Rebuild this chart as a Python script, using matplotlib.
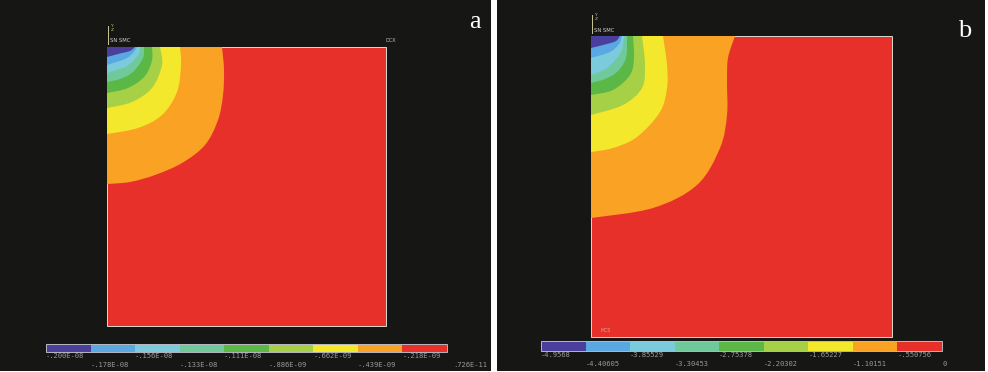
import matplotlib
matplotlib.use("Agg")
import matplotlib.pyplot as plt
from matplotlib.patches import PathPatch, Rectangle
from matplotlib.path import Path

# band colours, lowest value first
band_colors = ["#4b3f9e", "#5aa8e2", "#7ccbdc", "#70c99a", "#5bb847",
               "#a6d045", "#f4e82c", "#faa224", "#e8302a"]

# -------------------------------
# Panel a, contour lines (x, y in picture pixels)
a_lines = [
    [(135, 47), (130, 51), (122, 53), (107, 57)],
    [(137, 47), (133, 53), (125, 59), (107, 65)],
    [(140, 47), (138, 55), (127, 66), (107, 73)],
    [(144, 47), (143, 58), (133, 72), (120, 79), (107, 82)],
    [(152, 47), (152, 60), (145, 76), (128, 88), (107, 93)],
    [(160, 47), (162, 65), (152, 88), (132, 102), (107, 108)],
    [(180, 47), (181, 65), (177, 92), (162, 115), (138, 128), (107, 134)],
    [(222, 47), (224, 70), (223, 95), (218, 120), (205, 145), (182, 163),
     (155, 175), (130, 182), (107, 184)],
]
a_labels_top = ["-.200E-08", "-.156E-08", "-.111E-08", "-.662E-09", "-.218E-09"]
a_labels_low = ["-.178E-08", "-.133E-08", "-.886E-09", "-.439E-09", ".726E-11"]

# Panel b
b_lines = [
    [(620, 36), (616, 41), (607, 44), (591, 48)],
    [(622, 36), (619, 44), (610, 52), (591, 58)],
    [(624, 36), (621, 52), (607, 68), (591, 75)],
    [(627, 36), (626, 58), (617, 72), (605, 79), (591, 83)],
    [(633, 36), (634, 58), (630, 75), (613, 90), (591, 95)],
    [(642, 36), (645, 65), (642, 88), (623, 105), (591, 115)],
    [(663, 36), (667, 65), (667, 88), (660, 112), (637, 137), (613, 148),
     (591, 152)],
    [(735, 36), (728, 58), (727, 82), (727, 115), (720, 148), (697, 185),
     (653, 208), (591, 218)],
]
b_labels_top = ["-4.9568", "-3.85529", "-2.75378", "-1.65227", "-.550756"]
b_labels_low = ["-4.40605", "-3.30453", "-2.20302", "-1.10151", "0"]

fig = plt.figure(figsize=(9.88, 3.72), dpi=100, facecolor="white")
ax = fig.add_axes([0, 0, 1, 1])
ax.set_xlim(0, 988)
ax.set_ylim(372, 0)
ax.axis("off")


def smooth_band(pts, corner):
    # catmull-rom through the read points, closed through the box corner
    verts = [pts[0]]
    codes = [Path.MOVETO]
    for i in range(len(pts) - 1):
        p0 = pts[max(i - 1, 0)]
        p1 = pts[i]
        p2 = pts[i + 1]
        p3 = pts[min(i + 2, len(pts) - 1)]
        c1 = (p1[0] + (p2[0] - p0[0]) / 6, p1[1] + (p2[1] - p0[1]) / 6)
        c2 = (p2[0] - (p3[0] - p1[0]) / 6, p2[1] - (p3[1] - p1[1]) / 6)
        verts += [c1, c2, p2]
        codes += [Path.CURVE4] * 3
    verts += [corner, pts[0]]
    codes += [Path.LINETO, Path.CLOSEPOLY]
    return Path(verts, codes)


def draw_panel(bg, box, lines, bar, labels_top, labels_low, letter, letter_xy, last_dx):
    ax.add_patch(Rectangle((bg[0], bg[1]), bg[2], bg[3], fc="#161615", ec="none"))
    left, top, right, bottom = box
    ax.add_patch(Rectangle((left, top), right - left, bottom - top,
                           fc=band_colors[-1], ec="#d8d8d0", lw=0.7))
    # largest band first so the inner ones sit on top
    for i in range(len(lines) - 1, -1, -1):
        ax.add_patch(PathPatch(smooth_band(lines[i], (left, top)),
                               fc=band_colors[i], ec="none"))

    # legend bar
    bx, by, bw, bh = bar
    seg = bw / len(band_colors)
    for i, c in enumerate(band_colors):
        ax.add_patch(Rectangle((bx + i * seg, by), seg, bh, fc=c, ec="none"))
    ax.add_patch(Rectangle((bx, by), bw, bh, fc="none", ec="#b8b8c0", lw=0.7))
    for i, t in enumerate(labels_top):
        ax.text(bx + i * 2 * seg, by + bh + 4, t, color="#9a9a9a", fontsize=5.1,
                family="DejaVu Sans Mono", va="center")
    for i, t in enumerate(labels_low):
        x = bx + (i * 2 + 1) * seg if i < 4 else bx + bw + last_dx
        ax.text(x, by + bh + 13, t, color="#9a9a9a", fontsize=5.1,
                family="DejaVu Sans Mono", va="center")

    # little triad above the corner
    ax.plot([left + 1, left + 1], [top - 21, top - 3], color="#c8c890", lw=0.7)
    ax.text(left + 4, top - 19, "Y\nZ", color="#c8c890", fontsize=3.2, va="center")
    ax.text(left + 3, top - 6, "SN SMC", color="#d0d0d0", fontsize=3.8, va="center")

    ax.text(letter_xy[0], letter_xy[1], letter, color="white", fontsize=19,
            family="Liberation Serif", ha="center", va="center")


draw_panel((0, 0, 491, 371), (107, 47, 386, 326), a_lines,
           (46, 344, 401, 8), a_labels_top, a_labels_low, "a", (475, 22), 6)
draw_panel((497, 0, 488, 371), (591, 36, 892, 337), b_lines,
           (541, 341, 401, 10), b_labels_top, b_labels_low, "b", (965, 31), 0)

ax.text(385, 41, "DCX", color="#c0c0c0", fontsize=3.6, va="center")
ax.text(600, 331, "MCS", color="#d8a090", fontsize=3.4, va="center")

fig.savefig("out.png", dpi=100)
